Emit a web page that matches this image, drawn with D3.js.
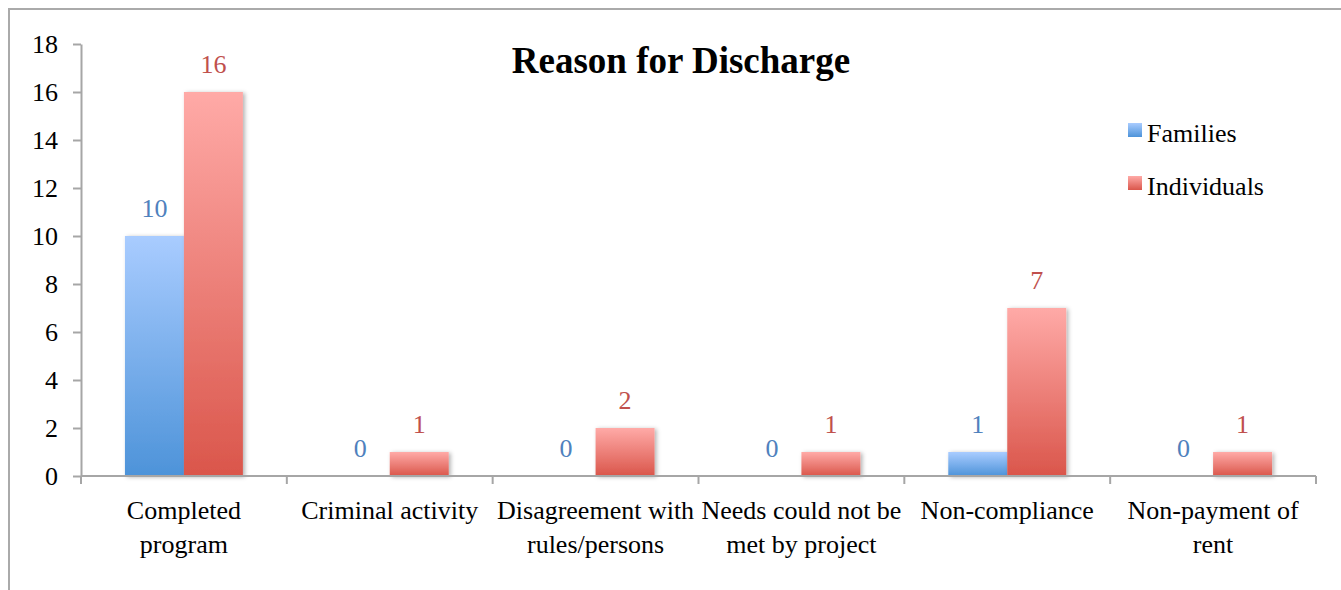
<!DOCTYPE html>
<html>
<head>
<meta charset="utf-8">
<script src="https://cdn.jsdelivr.net/npm/d3@7"></script>
<style>
    body { margin: 0; background: #fff; }
    svg { display: block; font-family: "Liberation Serif", "Times New Roman", serif; }
</style>
</head>
<body>
<div id="chart"></div>
<script>
// chart data
const categories = ["Completed program", "Criminal activity", "Disagreement with rules/persons",
    "Needs could not be met by project", "Non-compliance", "Non-payment of rent"];
const seriesNames = ["Families", "Individuals"];
const families = [10, 0, 0, 0, 1, 0];
const individuals = [16, 1, 2, 1, 7, 1];
const yTicks = [0, 2, 4, 6, 8, 10, 12, 14, 16, 18];

const width = 1341, height = 590;
const margin = { top: 44, right: 25, bottom: 114, left: 81 };

const svg = d3.select("#chart")
    .append("svg")
    .attr("width", width)
    .attr("height", height);

const defs = svg.append("defs");

const gradients = [
    { id: "gradBlue", top: "#a9ccff", bottom: "#4d93d9" },
    { id: "gradRed", top: "#ffaaa7", bottom: "#da564b" }
];
gradients.forEach(g => {
    const lg = defs.append("linearGradient")
        .attr("id", g.id)
        .attr("x1", 0).attr("y1", 0)
        .attr("x2", 0).attr("y2", 1);
    lg.append("stop").attr("offset", "0%").attr("stop-color", g.top);
    lg.append("stop").attr("offset", "100%").attr("stop-color", g.bottom);
});

const shadow = defs.append("filter")
    .attr("id", "barShadow")
    .attr("x", "-20%").attr("y", "-20%")
    .attr("width", "150%").attr("height", "150%");
shadow.append("feDropShadow")
    .attr("dx", 2).attr("dy", 1)
    .attr("stdDeviation", 2)
    .attr("flood-color", "#000")
    .attr("flood-opacity", 0.3);

// outer frame (runs off the right and bottom edges)
svg.append("rect")
    .attr("x", 9).attr("y", 9)
    .attr("width", 1400).attr("height", 700)
    .attr("fill", "none")
    .attr("stroke", "#aaaaaa")
    .attr("stroke-width", 2);

const x0 = d3.scaleBand()
    .domain(categories)
    .range([margin.left, width - margin.right])
    .paddingInner(0.427)
    .paddingOuter(0.2135);

const x1 = d3.scaleBand()
    .domain(seriesNames)
    .range([0, x0.bandwidth()]);

const y = d3.scaleLinear()
    .domain([0, 18])
    .range([height - margin.bottom - 0 + 0, margin.top]);

const plotBottom = y(0);
const step = x0.step();
const seriesColor = { Families: "#4f81bd", Individuals: "#c0504d" };
const seriesFill = { Families: "url(#gradBlue)", Individuals: "url(#gradRed)" };

const rows = categories.map((c, i) => ({
    category: c,
    values: [
        { key: "Families", value: families[i] },
        { key: "Individuals", value: individuals[i] }
    ]
}));

// bars
const groups = svg.append("g")
    .selectAll("g")
    .data(rows)
    .join("g")
    .attr("transform", d => `translate(${x0(d.category)},0)`);

groups.selectAll("rect")
    .data(d => d.values.filter(v => v.value > 0))
    .join("rect")
    .attr("x", d => x1(d.key))
    .attr("y", d => y(d.value))
    .attr("width", x1.bandwidth())
    .attr("height", d => plotBottom - y(d.value))
    .attr("fill", d => seriesFill[d.key])
    .attr("filter", "url(#barShadow)");

groups.selectAll("text")
    .data(d => d.values)
    .join("text")
    .attr("x", d => x1(d.key) + x1.bandwidth() / 2)
    .attr("y", d => y(d.value) - 19)
    .attr("text-anchor", "middle")
    .attr("font-size", 26)
    .attr("fill", d => seriesColor[d.key])
    .text(d => d.value);

// y axis
const yAxis = svg.append("g")
    .attr("transform", `translate(${margin.left},0)`)
    .call(d3.axisLeft(y).tickValues(yTicks).tickSize(8).tickSizeOuter(0).tickPadding(15));
yAxis.select(".domain").attr("stroke", "#a6a6a6").attr("stroke-width", 2);
yAxis.selectAll(".tick line").attr("stroke", "#a6a6a6").attr("stroke-width", 2);
yAxis.selectAll(".tick text")
    .attr("font-family", "Liberation Serif, Times New Roman, serif")
    .attr("font-size", 26)
    .attr("fill", "#000")
    .attr("dy", "0.33em");

// x axis line and category boundary ticks
svg.append("line")
    .attr("x1", margin.left).attr("x2", width - margin.right)
    .attr("y1", plotBottom).attr("y2", plotBottom)
    .attr("stroke", "#a6a6a6").attr("stroke-width", 2);

const boundaries = d3.range(categories.length + 1).map(i => margin.left + i * step);
svg.append("g")
    .selectAll("line")
    .data(boundaries)
    .join("line")
    .attr("x1", d => d).attr("x2", d => d)
    .attr("y1", plotBottom).attr("y2", plotBottom + 8)
    .attr("stroke", "#a6a6a6").attr("stroke-width", 2);

// category labels, wrapped to the band width
const catLabels = svg.append("g")
    .selectAll("text")
    .data(categories)
    .join("text")
    .attr("x", d => x0(d) + x0.bandwidth() / 2)
    .attr("y", plotBottom + 43)
    .attr("text-anchor", "middle")
    .attr("font-size", 26)
    .attr("fill", "#000");

catLabels.each(function (d) {
    const text = d3.select(this);
    const words = d.split(" ");
    const cx = text.attr("x");
    let line = [];
    let lineNo = 0;
    let tspan = text.append("tspan").attr("x", cx).attr("dy", 0);
    words.forEach(w => {
        line.push(w);
        tspan.text(line.join(" "));
        if (tspan.node().getComputedTextLength() > 202 && line.length > 1) {
            line.pop();
            tspan.text(line.join(" "));
            line = [w];
            lineNo++;
            tspan = text.append("tspan").attr("x", cx).attr("dy", 34).text(w);
        }
    });
});

// title
svg.append("text")
    .attr("x", 681)
    .attr("y", 73)
    .attr("text-anchor", "middle")
    .attr("font-size", 37)
    .attr("font-weight", "bold")
    .attr("fill", "#000")
    .text("Reason for Discharge");

// legend
const legend = svg.append("g")
    .selectAll("g")
    .data(seriesNames)
    .join("g")
    .attr("transform", (d, i) => `translate(1128,${123 + i * 53})`);

legend.append("rect")
    .attr("width", 14).attr("height", 14)
    .attr("fill", d => seriesFill[d]);

legend.append("text")
    .attr("x", 19)
    .attr("y", 19)
    .attr("font-size", 26)
    .attr("fill", "#000")
    .text(d => d);
</script>
</body>
</html>
